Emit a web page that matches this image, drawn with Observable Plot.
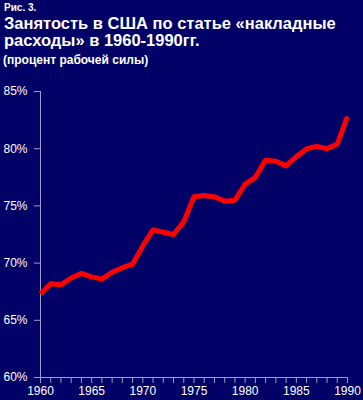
<!DOCTYPE html>
<html>
<head>
<meta charset="utf-8">
<script src="https://cdn.jsdelivr.net/npm/d3@7"></script>
<script src="https://cdn.jsdelivr.net/npm/@observablehq/plot@0.6"></script>
<style>
  html, body { margin: 0; padding: 0; background: #000066; }
  #wrap { position: relative; width: 363px; height: 400px; background: #000066; overflow: hidden;
          font-family: "Liberation Sans", Arial, sans-serif; color: #ffffff; }
  .t { position: absolute; left: 4px; white-space: nowrap; font-weight: bold; }
  #fig { left: 4px; top: 2.5px; font-size: 10px; line-height: 10px; }
  #title { left: 4px; top: 15px; font-size: 16.5px; line-height: 17px; }
  #sub { left: 3px; top: 54.3px; font-size: 12px; line-height: 12px; }
  #chart { position: absolute; left: 0; top: 70px; }
</style>
</head>
<body>
<div id="wrap">
  <div class="t" id="fig">Рис. 3.</div>
  <div class="t" id="title">Занятость в США по статье «накладные<br>расходы» в 1960-1990гг.</div>
  <div class="t" id="sub">(процент рабочей силы)</div>
  <div id="chart"></div>
</div>
<script>
const years = [1960,1961,1962,1963,1964,1965,1966,1967,1968,1969,1970,1971,1972,1973,1974,1975,1976,1977,1978,1979,1980,1981,1982,1983,1984,1985,1986,1987,1988,1989,1990];
const values = [67.3,68.2,68.1,68.7,69.1,68.8,68.6,69.2,69.6,69.9,71.5,72.9,72.7,72.5,73.6,75.8,75.9,75.8,75.4,75.5,76.9,77.5,79.0,78.9,78.5,79.3,80.0,80.2,80.0,80.4,82.8];
const yTicks = [60,65,70,75,80,85];
const xLabelTicks = [1960,1965,1970,1975,1980,1985,1990];

const data = years.map((y, i) => ({year: y, value: values[i]}));
const axisColor = "#9c9cc8";

const chart = Plot.plot({
  width: 363,
  height: 330,
  marginLeft: 40,
  marginRight: 16,
  marginTop: 21,
  marginBottom: 23,
  style: { background: "#000066", color: "#ffffff", fontFamily: "'Liberation Sans', Arial, sans-serif", fontSize: "12px" },
  x: { domain: [1960, 1990] },
  y: { domain: [60, 85] },
  marks: [
    Plot.ruleX([1960], { stroke: axisColor, strokeWidth: 1 }),
    Plot.ruleY([60], { stroke: axisColor, strokeWidth: 1 }),
    Plot.axisY({ ticks: yTicks, tickSize: 6, tickPadding: 7, stroke: axisColor, fill: "#ffffff",
                 tickFormat: d => d + "%", label: null, fontSize: 12 }),
    Plot.axisX({ ticks: years, tickSize: 6, tickFormat: () => "", stroke: axisColor, label: null }),
    Plot.axisX({ ticks: xLabelTicks, tickSize: 0, tickPadding: 9, fill: "#ffffff",
                 tickFormat: d => String(d), label: null, fontSize: 12 }),
    Plot.line(data, { x: "year", y: "value", stroke: "#ff0000", strokeWidth: 5,
                      strokeLinejoin: "round", strokeLinecap: "butt" })
  ]
});
document.getElementById("chart").appendChild(chart);
</script>
</body>
</html>
